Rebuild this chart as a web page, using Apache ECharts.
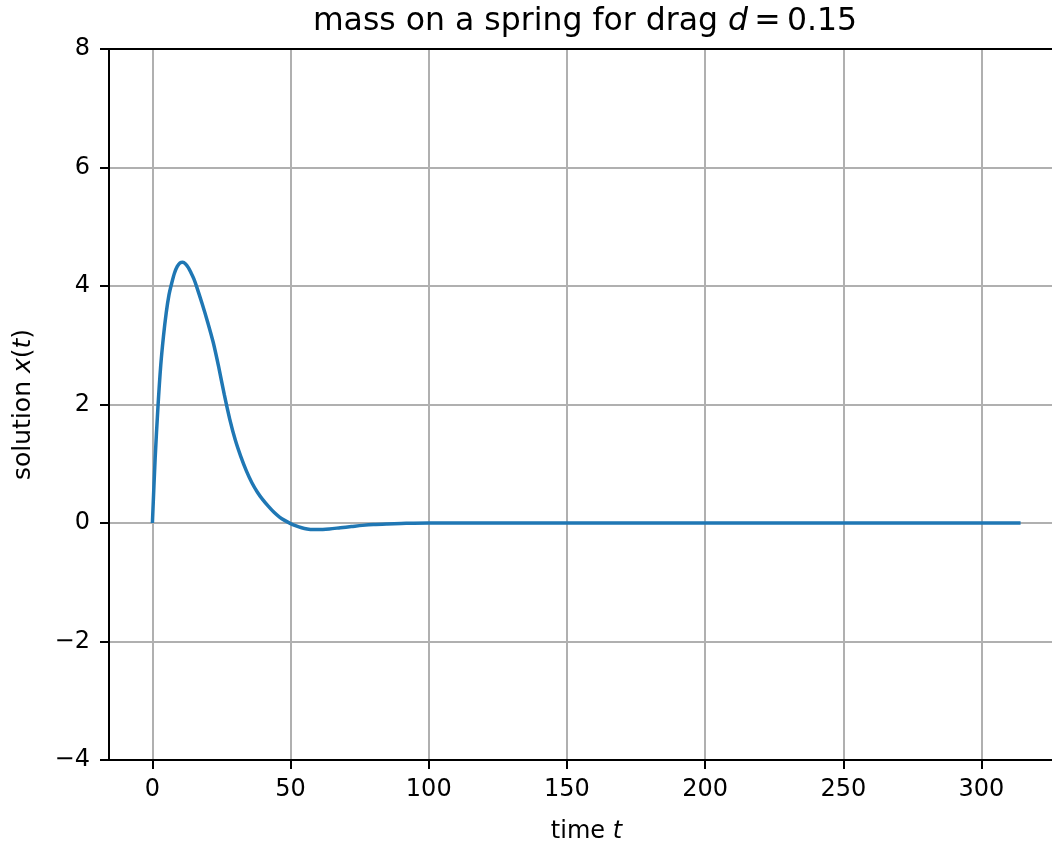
<!DOCTYPE html>
<html>
<head>
<meta charset="utf-8">
<script src="https://cdn.jsdelivr.net/npm/echarts@6/dist/echarts.min.js"></script>
<style>
  html, body { margin: 0; padding: 0; background: #fff; }
  #chart { width: 1052px; height: 843px; }
</style>
</head>
<body>
<div id="chart"></div>
<script>
// values
var timeT = [0, 1, 2, 3, 4, 5, 6, 7, 8, 9, 10, 11, 12, 13, 14, 15, 16, 18, 20, 22, 24, 26, 28,
             30, 32, 34, 36, 38, 40, 42, 44, 46, 48, 50, 52, 54, 56, 58, 60, 64, 68, 72, 76, 80,
             85, 90, 100, 120, 160, 200, 250, 314.16];
var solX = [0, 1.1, 1.95, 2.65, 3.15, 3.55, 3.85, 4.05, 4.22, 4.33, 4.39, 4.40, 4.37, 4.31, 4.22,
            4.12, 3.99, 3.70, 3.39, 3.05, 2.63, 2.17, 1.75, 1.40, 1.12, 0.88, 0.68, 0.52, 0.39,
            0.28, 0.18, 0.10, 0.04, -0.01, -0.05, -0.08, -0.10, -0.11, -0.11, -0.10, -0.08,
            -0.06, -0.04, -0.025, -0.015, -0.008, 0, 0, 0, 0, 0, 0];
var xTicks = [0, 50, 100, 150, 200, 250, 300];

var points = timeT.map(function (t, i) { return [t, solX[i]]; });

var chart = echarts.init(document.getElementById('chart'));
var font = 'DejaVu Sans';
function rich(size) {
  return {
    n: { fontFamily: font, fontSize: size, fontWeight: 'normal', color: '#000' },
    i: { fontFamily: font, fontSize: size, fontWeight: 'normal', fontStyle: 'italic', color: '#000' }
  };
}
var option = {
  animation: false,
  title: {
    text: '{n|mass on a spring for drag }{i|d}{n|\u2009=\u20090.15}',
    left: 580,
    top: 1,
    textAlign: 'center',
    textStyle: { fontWeight: 'normal', rich: rich(31.5) }
  },
  grid: { left: 109, right: -12, top: 49, bottom: 83, containLabel: false, outerBoundsMode: 'none' },
  xAxis: {
    type: 'value',
    min: -15.708,
    max: 329.87,
    name: '{n|time }{i|t}',
    nameLocation: 'middle',
    nameGap: 60,
    nameTextStyle: { rich: rich(24) },
    axisLine: { show: true, onZero: false, lineStyle: { color: '#000', width: 2 } },
    axisTick: { show: true, customValues: xTicks, length: 9, lineStyle: { color: '#000', width: 2 } },
    axisLabel: { customValues: xTicks, fontFamily: font, fontSize: 24, color: '#000', margin: 18 },
    splitLine: { show: true, lineStyle: { color: '#b0b0b0', width: 2 } }
  },
  yAxis: {
    type: 'value',
    min: -4,
    max: 8,
    interval: 2,
    name: '{n|solution }{i|x}{n|(}{i|t}{n|)}',
    nameLocation: 'middle',
    nameGap: 73,
    nameRotate: 90,
    nameTextStyle: { rich: rich(25) },
    axisLine: { show: true, onZero: false, lineStyle: { color: '#000', width: 2 } },
    axisTick: { show: true, length: 9, lineStyle: { color: '#000', width: 2 } },
    axisLabel: {
      fontFamily: font, fontSize: 24, color: '#000', margin: 19,
      formatter: function (v) { return String(v).replace('-', '\u2212'); }
    },
    splitLine: { show: true, lineStyle: { color: '#b0b0b0', width: 2 } }
  },
  series: [{
    type: 'line',
    data: points,
    showSymbol: false,
    smooth: 0.3,
    lineStyle: { color: '#1f77b4', width: 3.5 },
    z: 5
  }]
};
chart.setOption(option);
// top spine
chart.setOption({
  graphic: [{
    type: 'line',
    shape: { x1: 108, y1: 49, x2: 1052, y2: 49 },
    style: { stroke: '#000', lineWidth: 2 }
  }]
});
</script>
</body>
</html>
